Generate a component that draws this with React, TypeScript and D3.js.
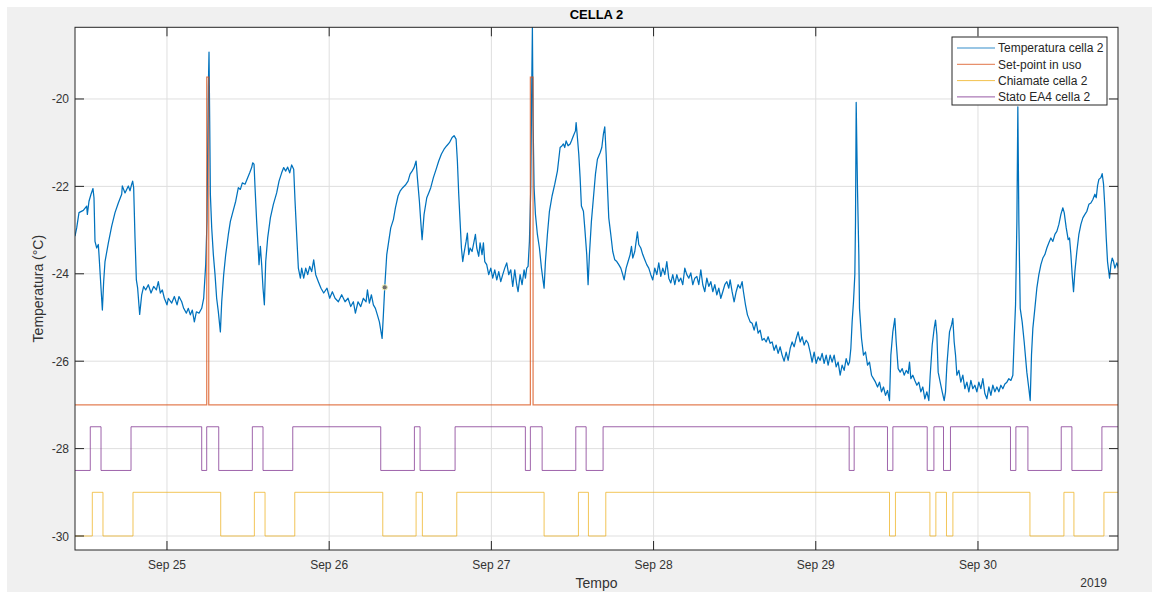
import React from "react";
import * as d3 from "d3";

// time stored as hours from 2019-09-24 00:00
const base = new Date(2019, 8, 24);
const toDate = (h: number) => new Date(base.getTime() + h * 3600 * 1000);

const xLimits = [10.39, 164.72];
const yLimits = [-30.32, -18.36];
const yTicks = [-30, -28, -26, -24, -22, -20];

const legendLabels = ["Temperatura cella 2", "Set-point in uso", "Chiamate cella 2", "Stato EA4 cella 2"];
const colors = ["#0072BD", "#D95319", "#EDB120", "#7E2F8E"];

// [hour, °C]
const temperatura: [number, number][] = [
  [10.39, -23.14], [10.64, -22.95], [10.98, -22.6], [11.62, -22.55], [12.12, -22.45], [12.22, -22.64],
  [12.46, -22.34], [12.76, -22.18], [13.05, -22.05], [13.2, -22.26], [13.35, -23.26], [13.6, -23.41],
  [13.84, -23.33], [13.94, -23.56], [14.24, -24.33], [14.44, -24.83], [14.63, -24.18], [14.83, -23.72],
  [15.32, -23.3], [15.82, -22.91], [16.31, -22.6], [16.8, -22.38], [17.3, -22.18], [17.39, -21.99],
  [17.79, -22.15], [18.28, -21.99], [18.53, -22.1], [18.78, -21.95], [18.92, -21.88], [19.07, -22.03],
  [19.27, -23.18], [19.47, -24.14], [19.66, -24.33], [19.96, -24.93], [20.26, -24.48], [20.55, -24.29],
  [20.85, -24.37], [21.24, -24.25], [21.64, -24.44], [22.03, -24.29], [22.43, -24.37], [22.72, -24.18],
  [23.02, -24.44], [23.31, -24.37], [23.61, -24.56], [24.0, -24.71], [24.2, -24.56], [24.7, -24.67],
  [25.09, -24.52], [25.49, -24.71], [25.78, -24.52], [26.18, -24.64], [26.47, -24.79], [26.87, -24.9],
  [27.16, -24.79], [27.46, -24.94], [27.75, -24.83], [28.05, -25.1], [28.35, -24.87], [28.74, -24.9],
  [29.14, -24.79], [29.43, -24.56], [29.73, -23.79], [29.92, -22.8], [30.02, -21.26], [30.12, -19.73],
  [30.22, -18.93], [30.32, -20.5], [30.42, -22.18], [30.62, -22.95], [30.86, -23.56], [31.11, -24.02],
  [31.35, -24.56], [31.6, -24.87], [31.9, -25.33], [32.1, -24.64], [32.39, -24.02], [32.69, -23.56],
  [33.08, -23.1], [33.38, -22.8], [33.77, -22.57], [34.17, -22.34], [34.56, -22.03], [34.86, -22.07],
  [35.15, -21.92], [35.55, -21.95], [35.94, -21.8], [36.24, -21.69], [36.53, -21.57], [36.68, -21.46],
  [36.88, -21.49], [37.03, -22.03], [37.27, -22.8], [37.52, -23.49], [37.62, -23.79], [37.82, -23.37],
  [38.01, -23.79], [38.21, -24.33], [38.41, -24.71], [38.61, -23.72], [38.9, -23.18], [39.3, -22.72],
  [39.74, -22.41], [40.23, -22.15], [40.58, -21.88], [40.97, -21.69], [41.27, -21.57], [41.57, -21.65],
  [41.86, -21.56], [42.16, -21.69], [42.45, -21.51], [42.75, -21.61], [42.95, -22.34], [43.24, -23.26],
  [43.44, -23.87], [43.74, -24.1], [43.93, -23.87], [44.23, -24.1], [44.53, -23.87], [44.82, -24.02],
  [45.12, -23.83], [45.41, -23.95], [45.71, -23.68], [46.01, -24.02], [46.4, -24.18], [46.79, -24.33],
  [47.19, -24.44], [47.68, -24.33], [48.08, -24.56], [48.47, -24.41], [48.87, -24.56], [49.36, -24.64],
  [49.85, -24.48], [50.35, -24.64], [50.79, -24.56], [51.19, -24.75], [51.58, -24.64], [51.88, -24.9],
  [52.27, -24.64], [52.67, -24.75], [53.06, -24.56], [53.46, -24.64], [53.66, -24.37], [53.95, -24.67],
  [54.25, -24.48], [54.54, -24.71], [54.84, -24.79], [55.13, -24.94], [55.43, -25.1], [55.83, -25.48],
  [56.02, -24.94], [56.22, -24.31], [56.52, -23.56], [56.81, -23.26], [57.11, -22.95], [57.5, -22.76],
  [57.8, -22.49], [58.19, -22.22], [58.49, -22.11], [58.88, -22.03], [59.28, -21.97], [59.67, -21.88],
  [59.97, -21.72], [60.27, -21.65], [60.56, -21.57], [60.86, -21.42], [61.05, -21.8], [61.35, -22.34],
  [61.55, -22.8], [61.75, -23.22], [62.04, -22.64], [62.44, -22.26], [62.73, -22.15], [63.03, -22.03],
  [63.42, -21.8], [63.82, -21.61], [64.21, -21.42], [64.61, -21.26], [65.0, -21.15], [65.4, -21.07],
  [65.79, -21.0], [66.19, -20.88], [66.48, -20.84], [66.78, -20.92], [66.97, -21.42], [67.17, -22.18],
  [67.37, -22.8], [67.57, -23.41], [67.76, -23.72], [67.96, -23.52], [68.26, -23.26], [68.45, -23.07],
  [68.65, -23.56], [68.85, -23.41], [69.14, -23.49], [69.44, -23.26], [69.64, -23.1], [69.84, -23.41],
  [70.13, -23.6], [70.33, -23.29], [70.62, -23.56], [70.82, -23.29], [71.02, -23.72], [71.31, -23.79],
  [71.61, -24.02], [71.91, -23.87], [72.2, -24.1], [72.5, -23.91], [72.8, -24.14], [73.09, -23.95],
  [73.39, -24.18], [73.68, -24.02], [73.98, -23.87], [74.27, -23.75], [74.57, -24.02], [74.87, -23.91],
  [75.16, -24.29], [75.46, -23.91], [75.75, -24.25], [75.95, -24.41], [76.25, -24.02], [76.54, -24.25],
  [76.84, -23.91], [77.04, -24.1], [77.23, -23.87], [77.43, -23.83], [77.63, -23.26], [77.83, -22.03],
  [77.97, -19.73], [78.07, -18.36], [78.17, -20.5], [78.32, -22.03], [78.52, -22.64], [78.81, -23.1],
  [79.11, -23.41], [79.41, -23.87], [79.6, -24.1], [79.8, -24.33], [80.0, -23.72], [80.29, -23.1],
  [80.59, -22.57], [80.98, -22.22], [81.38, -21.95], [81.77, -21.65], [82.17, -21.11], [82.46, -21.07],
  [82.66, -21.03], [82.86, -21.11], [83.06, -20.96], [83.35, -21.07], [83.65, -21.03], [83.84, -20.96],
  [84.14, -20.84], [84.44, -20.73], [84.54, -20.54], [84.73, -20.88], [84.93, -21.26], [85.13, -21.8],
  [85.32, -22.45], [85.62, -22.57], [85.82, -22.95], [86.11, -23.56], [86.31, -24.25], [86.51, -23.56],
  [86.8, -22.8], [87.1, -22.26], [87.4, -21.72], [87.69, -21.38], [88.09, -21.23], [88.34, -21.11],
  [88.58, -20.8], [88.78, -20.64], [88.98, -21.26], [89.18, -22.03], [89.37, -22.72], [89.67, -23.1],
  [89.96, -23.49], [90.26, -23.68], [90.56, -23.72], [90.85, -23.79], [91.15, -23.87], [91.44, -24.02],
  [91.64, -24.14], [91.94, -23.87], [92.23, -23.72], [92.53, -23.56], [92.73, -23.37], [92.92, -23.64],
  [93.22, -23.49], [93.42, -23.26], [93.61, -23.04], [93.81, -23.33], [94.11, -23.41], [94.4, -23.56],
  [94.7, -23.68], [94.99, -23.79], [95.29, -23.87], [95.59, -24.02], [95.88, -24.14], [96.18, -23.87],
  [96.48, -24.02], [96.77, -23.75], [97.07, -24.06], [97.36, -23.87], [97.66, -24.02], [97.96, -23.72],
  [98.25, -24.1], [98.55, -24.21], [98.84, -24.02], [99.14, -24.25], [99.44, -24.02], [99.73, -24.18],
  [100.03, -24.1], [100.32, -24.25], [100.62, -23.87], [100.92, -24.02], [101.21, -24.1], [101.51, -23.98],
  [101.8, -24.25], [102.1, -24.1], [102.4, -24.06], [102.69, -24.25], [102.99, -23.91], [103.28, -24.25],
  [103.58, -24.41], [103.88, -24.1], [104.17, -24.29], [104.47, -24.18], [104.76, -24.41], [105.06, -24.25],
  [105.36, -24.48], [105.65, -24.33], [105.95, -24.56], [106.24, -24.41], [106.54, -24.25], [106.84, -24.18],
  [107.13, -24.33], [107.33, -24.14], [107.62, -24.41], [107.92, -24.64], [108.22, -24.41], [108.51, -24.25],
  [108.81, -24.33], [109.1, -24.18], [109.3, -24.41], [109.6, -24.71], [109.89, -24.94], [110.29, -25.1],
  [110.58, -25.13], [110.88, -25.29], [111.18, -25.1], [111.47, -25.36], [111.77, -25.29], [112.06, -25.52],
  [112.36, -25.48], [112.66, -25.56], [112.95, -25.44], [113.25, -25.59], [113.54, -25.56], [113.84, -25.75],
  [114.14, -25.63], [114.43, -25.82], [114.73, -25.67], [115.02, -25.86], [115.32, -26.0], [115.62, -25.79],
  [115.91, -25.98], [116.21, -25.71], [116.5, -25.56], [116.8, -25.67], [117.1, -25.48], [117.39, -25.33],
  [117.69, -25.56], [117.98, -25.44], [118.28, -25.63], [118.58, -25.52], [118.87, -25.59], [119.17, -25.79],
  [119.46, -26.02], [119.76, -25.79], [120.06, -26.05], [120.35, -25.9], [120.65, -25.98], [120.94, -25.82],
  [121.24, -26.05], [121.54, -25.86], [121.83, -26.09], [122.13, -25.86], [122.42, -26.02], [122.72, -25.86],
  [123.02, -26.13], [123.31, -26.02], [123.61, -26.32], [123.9, -26.09], [124.2, -26.21], [124.5, -25.94],
  [124.79, -26.09], [124.99, -26.02], [125.19, -25.71], [125.38, -25.1], [125.58, -24.64], [125.78, -24.02],
  [125.88, -22.8], [125.98, -20.08], [126.17, -22.03], [126.37, -23.56], [126.47, -24.79], [126.77, -25.48],
  [127.06, -25.86], [127.36, -25.79], [127.66, -26.09], [127.95, -26.02], [128.25, -26.32], [128.54, -26.4],
  [128.84, -26.48], [129.14, -26.59], [129.43, -26.48], [129.73, -26.7], [130.02, -26.59], [130.32, -26.78],
  [130.62, -26.67], [130.91, -26.9], [131.11, -25.86], [131.4, -25.33], [131.7, -25.02], [131.9, -25.56],
  [132.19, -26.17], [132.49, -26.25], [132.79, -26.17], [133.08, -26.32], [133.38, -26.21], [133.67, -26.28],
  [133.87, -26.02], [134.07, -26.4], [134.36, -26.32], [134.66, -26.44], [134.96, -26.55], [135.25, -26.48],
  [135.55, -26.7], [135.84, -26.59], [136.14, -26.86], [136.44, -26.7], [136.73, -26.9], [136.93, -26.32],
  [137.23, -25.63], [137.52, -25.25], [137.72, -25.06], [137.92, -25.4], [138.11, -26.25], [138.41, -26.48],
  [138.71, -26.7], [139.0, -26.9], [139.2, -26.7], [139.4, -26.09], [139.59, -25.71], [139.79, -25.33],
  [140.09, -25.17], [140.28, -25.02], [140.48, -25.56], [140.68, -25.86], [140.88, -26.32], [141.17, -26.21],
  [141.47, -26.48], [141.76, -26.32], [142.06, -26.63], [142.36, -26.48], [142.65, -26.7], [142.95, -26.44],
  [143.24, -26.63], [143.54, -26.55], [143.84, -26.7], [144.13, -26.48], [144.43, -26.63], [144.72, -26.4],
  [145.02, -26.74], [145.32, -26.86], [145.61, -26.59], [145.91, -26.78], [146.2, -26.55], [146.5, -26.7],
  [146.8, -26.59], [147.09, -26.7], [147.39, -26.55], [147.68, -26.63], [147.98, -26.52], [148.28, -26.48],
  [148.57, -26.4], [148.87, -26.44], [149.16, -26.32], [149.36, -25.48], [149.56, -24.71], [149.76, -22.8],
  [149.9, -20.18], [150.05, -22.8], [150.25, -24.79], [150.54, -25.1], [150.84, -25.56], [151.23, -26.25],
  [151.53, -26.63], [151.73, -26.9], [151.92, -25.86], [152.12, -25.25], [152.42, -24.79], [152.71, -24.33],
  [153.01, -24.02], [153.31, -23.79], [153.6, -23.64], [153.9, -23.56], [154.19, -23.41], [154.49, -23.29],
  [154.79, -23.18], [155.08, -23.26], [155.38, -23.1], [155.67, -23.03], [155.97, -22.87], [156.27, -22.64],
  [156.56, -22.49], [156.76, -22.6], [157.06, -22.95], [157.35, -23.22], [157.55, -23.18], [157.75, -23.56],
  [157.94, -24.02], [158.14, -24.41], [158.34, -23.95], [158.63, -23.49], [158.93, -23.1], [159.23, -22.87],
  [159.52, -22.72], [159.82, -22.64], [160.11, -22.57], [160.41, -22.41], [160.71, -22.38], [161.0, -22.3],
  [161.3, -22.18], [161.5, -22.26], [161.69, -21.99], [161.89, -21.84], [162.19, -21.8], [162.38, -21.71],
  [162.58, -21.95], [162.78, -22.49], [162.98, -23.18], [163.17, -23.72], [163.47, -24.1], [163.67, -23.79],
  [163.86, -23.64], [164.06, -23.72], [164.26, -23.87], [164.55, -23.75], [164.85, -23.91], [165.05, -23.83],
];

// step series: value holds from its hour until the next one
const setPointOre = [10, 29.88, 30.18, 77.77, 78.17, 165];
const setPointVal = [-27, -19.5, -27, -19.5, -27, -27];

const chiamateOre = [10, 12.95, 14.53, 18.97, 31.95, 36.93, 38.51, 42.91, 55.93, 60.86, 61.79, 66.88, 79.8,
  84.88, 86.36, 88.93, 130.91, 131.79, 136.89, 137.77, 139.34, 140.29, 151.69, 156.72, 158.2, 162.64, 165];
const chiamateVal = [-30, -29, -30, -29, -30, -29, -30, -29, -30, -29, -30, -29, -30,
  -29, -30, -29, -30, -29, -30, -29, -30, -29, -30, -29, -30, -29, -29];

const statoOre = [10, 12.65, 14.24, 18.68, 29.14, 29.88, 31.66, 36.63, 38.21, 42.61, 55.63, 60.61, 61.45,
  66.63, 77.03, 77.77, 79.51, 84.49, 86.02, 88.53, 124.94, 125.68, 130.61, 131.41, 136.49, 137.48, 138.9,
  139.93, 148.81, 149.61, 151.39, 156.32, 157.9, 162.34, 165];
const statoVal = [-28.5, -27.5, -28.5, -27.5, -28.5, -27.5, -28.5, -27.5, -28.5, -27.5, -28.5, -27.5, -28.5,
  -27.5, -28.5, -27.5, -28.5, -27.5, -28.5, -27.5, -28.5, -27.5, -28.5, -27.5, -28.5, -27.5, -28.5,
  -27.5, -28.5, -27.5, -28.5, -27.5, -28.5, -27.5, -27.5];

// datatip marker left on the plot
const datatip: [number, number] = [56.22, -24.31];

const W = 1152;
const H = 592;
const m = { left: 75, top: 27.3, right: 1118, bottom: 550 };
const font = "'Liberation Sans', Arial, Helvetica, sans-serif";
const axisColor = "#262626";

export default function App() {
  const x = d3.scaleTime()
    .domain([toDate(xLimits[0]), toDate(xLimits[1])])
    .range([m.left, m.right]);
  const y = d3.scaleLinear().domain(yLimits).range([m.bottom, m.top]);

  const line = d3.line<[number, number]>()
    .x(d => x(toDate(d[0])))
    .y(d => y(d[1]));
  const step = d3.line<[number, number]>()
    .x(d => x(toDate(d[0])))
    .y(d => y(d[1]))
    .curve(d3.curveStepAfter);

  const zip = (a: number[], b: number[]) => a.map((t, i) => [t, b[i]] as [number, number]);

  const xTicks = d3.timeDay.range(toDate(xLimits[0]), toDate(xLimits[1]));
  const fmt = d3.timeFormat("%b %d");
  const tickLen = 9;

  const legendX = 952;
  const legendY = 37;

  return (
    <svg width={W} height={H} style={{ position: "absolute", left: 0, top: 0, display: "block" }}>
      <rect x={0} y={0} width={W} height={H} fill="#ffffff" />
      <rect x={7} y={7} width={W - 7} height={H - 7} fill="#f0f0f0" />
      <rect x={m.left} y={m.top} width={m.right - m.left} height={m.bottom - m.top} fill="#ffffff" />
      <defs>
        <clipPath id="plotclip">
          <rect x={m.left} y={m.top} width={m.right - m.left} height={m.bottom - m.top} />
        </clipPath>
      </defs>

      {/* grid */}
      <g stroke="#dfdfdf" strokeWidth={1}>
        {xTicks.map((t, i) => (
          <line key={"gx" + i} x1={x(t)} x2={x(t)} y1={m.top} y2={m.bottom} />
        ))}
        {yTicks.map(v => (
          <line key={"gy" + v} x1={m.left} x2={m.right} y1={y(v)} y2={y(v)} />
        ))}
      </g>

      <g clipPath="url(#plotclip)" fill="none">
        <path d={line(temperatura) || ""} stroke={colors[0]} strokeWidth={1.25} strokeLinejoin="round" />
        <path d={step(zip(setPointOre, setPointVal)) || ""} stroke={colors[1]} strokeWidth={1.25} strokeOpacity={0.75} />
        <path d={step(zip(chiamateOre, chiamateVal)) || ""} stroke={colors[2]} strokeWidth={1} strokeOpacity={0.75} />
        <path d={step(zip(statoOre, statoVal)) || ""} stroke={colors[3]} strokeWidth={1} strokeOpacity={0.75} />
        <circle cx={x(toDate(datatip[0]))} cy={y(datatip[1])} r={2.6} fill="#707070" stroke="#f0f0b0" strokeWidth={1} />
      </g>

      {/* box and ticks */}
      <g stroke={axisColor} strokeWidth={1} fill="none">
        <rect x={m.left} y={m.top} width={m.right - m.left} height={m.bottom - m.top} />
        {xTicks.map((t, i) => (
          <g key={"tx" + i}>
            <line x1={x(t)} x2={x(t)} y1={m.bottom} y2={m.bottom - tickLen} />
            <line x1={x(t)} x2={x(t)} y1={m.top} y2={m.top + tickLen} />
          </g>
        ))}
        {yTicks.map(v => (
          <g key={"ty" + v}>
            <line x1={m.left} x2={m.left + tickLen} y1={y(v)} y2={y(v)} />
            <line x1={m.right} x2={m.right - tickLen} y1={y(v)} y2={y(v)} />
          </g>
        ))}
      </g>

      <g fontFamily={font} fontSize={12} fill="#333333">
        {xTicks.map((t, i) => (
          <text key={"lx" + i} x={x(t)} y={569} textAnchor="middle">{fmt(t)}</text>
        ))}
        {yTicks.map(v => (
          <text key={"ly" + v} x={m.left - 6} y={y(v) + 4.5} textAnchor="end">{v}</text>
        ))}
        <text x={1107} y={587} textAnchor="end">2019</text>
        <text x={(m.left + m.right) / 2} y={588} textAnchor="middle" fontSize={14}>Tempo</text>
        <text
          transform={`translate(43, ${(m.top + m.bottom) / 2}) rotate(-90)`}
          textAnchor="middle"
          fontSize={14}
        >
          Temperatura (°C)
        </text>
        <text x={(m.left + m.right) / 2} y={19} textAnchor="middle" fontSize={13} fontWeight="bold" fill="#000000">
          CELLA 2
        </text>
      </g>

      {/* legend */}
      <g fontFamily={font} fontSize={12}>
        <rect x={legendX} y={legendY} width={155} height={68} fill="#ffffff" stroke={axisColor} strokeWidth={1} />
        {legendLabels.map((lab, i) => {
          const ly = legendY + 11 + i * 16.3;
          return (
            <g key={lab}>
              <line x1={legendX + 5} x2={legendX + 43} y1={ly} y2={ly} stroke={colors[i]} strokeWidth={1} strokeOpacity={0.8} />
              <text x={legendX + 46} y={ly + 4.3} fill="#262626">{lab}</text>
            </g>
          );
        })}
      </g>
    </svg>
  );
}
